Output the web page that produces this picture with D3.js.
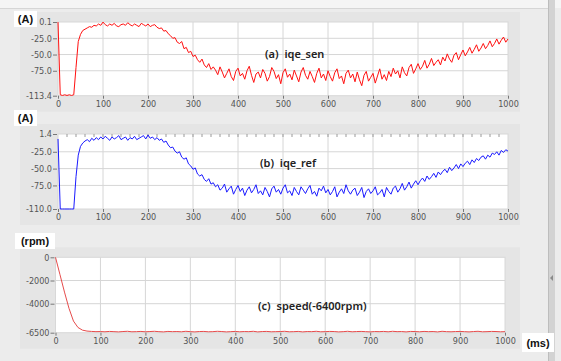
<!DOCTYPE html>
<html>
<head>
<meta charset="utf-8">
<script src="https://cdn.jsdelivr.net/npm/d3@7"></script>
<style>
body { margin: 0; background: #ececec; }
svg { display: block; }
.tick text { font-family: "Liberation Sans Narrow", "DejaVu Sans Condensed", sans-serif; font-size: 9px; fill: #555; }
.tick line { stroke: #777; }
.domain { display: none; }
.unit { font-family: "Liberation Sans", sans-serif; font-weight: bold; font-size: 11px; fill: #111; }
.note { font-family: "Noto Sans", sans-serif; font-weight: 600; font-size: 11px; fill: #222; }
</style>
</head>
<body>
<svg width="561" height="361"></svg>
<script>
// **** data (a, b: every 5 ms, c: every 10 ms) ****

var xTicks = [0, 100, 200, 300, 400, 500, 600, 700, 800, 900, 1000];
var senTicks = [0.1, -25, -50, -75, -113.4];
var refTicks = [1.4, -25, -50, -75, -110];
var speedTicks = [0, -2000, -4000, -6500];

var iqeSen = [
    0, -112, -113, -112, -113, -112, -113, -112, -70, -30,
    -19, -13, -11, -9, -7, -8, -5, -6, -3, -5,
    0, -4, -6, -3, -5, -2, -6, -7, -4, -3,
    -5, -1, -4, -6, -3, -5, -7, -2, -4, -6,
    -3, -7, -5, -4, -8, -10, -9, -14, -13, -18,
    -21, -25, -24, -31, -33, -30, -41, -39, -47, -45,
    -53, -51, -58, -62, -57, -66, -70, -64, -73, -69,
    -74, -81, -69, -77, -86, -79, -72, -84, -90, -76,
    -71, -83, -79, -88, -75, -68, -82, -93, -80, -77,
    -86, -73, -79, -91, -84, -70, -76, -87, -81, -95,
    -78, -72, -85, -80, -89, -74, -83, -92, -77, -70,
    -82, -88, -76, -84, -93, -79, -71, -86, -80, -90,
    -75, -84, -91, -78, -72, -87, -83, -95, -79, -74,
    -86, -80, -92, -77, -89, -98, -82, -76, -91, -85,
    -79, -94, -83, -72, -88, -81, -90, -76, -84, -71,
    -80, -75, -86, -69, -78, -83, -70, -65, -79, -72,
    -64, -73, -68, -59, -71, -65, -56, -67, -62, -58,
    -66, -54, -60, -49, -57, -62, -51, -47, -58, -50,
    -43, -52, -46, -39, -48, -42, -35, -45, -40, -33,
    -41, -36, -29, -38, -33, -26, -34, -28, -23, -31,
    -26
];

var iqeRef = [
    -6, -110, -110, -110, -110, -110, -110, -110, -62, -30,
    -17, -12, -9, -7, -10, -5, -8, -4, -7, -3,
    -6, -2, -5, -8, -3, -6, -4, -1, -7, -5,
    -3, -8, -4, -6, -2, -7, -5, -3, -1, -6,
    0, -5, -3, -7, -4, -8, -6, -11, -9, -15,
    -19, -18, -24, -27, -25, -33, -36, -34, -43, -46,
    -51, -49, -58, -61, -59, -66, -69, -65, -73, -71,
    -77, -74, -82, -79, -73, -85, -80, -76, -88, -81,
    -75, -84, -79, -90, -82, -77, -86, -81, -74, -87,
    -83, -89, -78, -84, -92, -80, -76, -85, -81, -88,
    -79, -74, -86, -83, -90, -78, -84, -89, -77, -82,
    -87, -80, -75, -88, -84, -91, -79, -83, -76, -86,
    -81, -89, -84, -77, -92, -85, -80, -87, -74, -83,
    -88, -82, -79, -90, -85, -78, -93, -84, -80, -87,
    -83, -77, -89, -86, -81, -92, -78, -84, -88, -79,
    -76, -85, -80, -72, -82, -77, -70, -79, -73, -68,
    -74, -68, -64, -69, -61, -66, -62, -57, -63, -55,
    -59, -54, -51, -56, -48, -53, -49, -44, -50, -43,
    -47, -42, -39, -44, -37, -41, -35, -38, -33, -31,
    -36, -30, -33, -27, -29, -25, -30, -23, -26, -22,
    -24
];

var speed = [
    0, -1500, -3000, -4400, -5500, -6050, -6280, -6360, -6390, -6410,
    -6400, -6420, -6390, -6410, -6430, -6400, -6380, -6420, -6410, -6390,
    -6420, -6400, -6380, -6410, -6430, -6390, -6410, -6400, -6420, -6380,
    -6410, -6430, -6400, -6390, -6420, -6410, -6380, -6400, -6430, -6410,
    -6390, -6420, -6400, -6410, -6380, -6430, -6400, -6390, -6420, -6410,
    -6400, -6380, -6420, -6410, -6390, -6430, -6400, -6410, -6380, -6420,
    -6410, -6390, -6400, -6430, -6410, -6380, -6420, -6400, -6390, -6410,
    -6430, -6400, -6410, -6390, -6420, -6380, -6410, -6400, -6430, -6390,
    -6400, -6420, -6390, -6410, -6400, -6430, -6380, -6410, -6420, -6400,
    -6390, -6410, -6430, -6400, -6380, -6420, -6410, -6390, -6400, -6420,
    -6410
];

var svg = d3.select('svg');

// **** window chrome ****

svg.append('rect').attr('x', 0).attr('y', 0).attr('width', 561).attr('height', 8).attr('fill', '#f5f5f5');
svg.append('line').attr('x1', 0).attr('x2', 548).attr('y1', 8.5).attr('y2', 8.5).attr('stroke', '#d6d6d6');
svg.append('rect').attr('x', 548).attr('y', 0).attr('width', 7).attr('height', 361).attr('fill', '#d3d3d3');
svg.append('line').attr('x1', 548.5).attr('x2', 548.5).attr('y1', 0).attr('y2', 361).attr('stroke', '#bdbdbd');
svg.append('path').attr('d', 'M550,278 L553,275 L553,281 Z').attr('fill', '#8a8a8a');

// **** one function per graph ****

function drawGraph(opt) {
    var x = d3.scaleLinear().domain([0, 1000]).range([opt.left, opt.right]);
    var y = d3.scaleLinear().domain([opt.ticks[opt.ticks.length - 1], opt.ticks[0]]).range([opt.bottom, opt.top]);

    // gray frame of the graph
    svg.append('rect')
        .attr('x', 20).attr('y', opt.top - 10)
        .attr('width', 500).attr('height', opt.bottom - opt.top + 26)
        .attr('fill', '#e5e5e5');

    svg.append('rect')
        .attr('x', opt.left).attr('y', opt.top)
        .attr('width', opt.right - opt.left).attr('height', opt.bottom - opt.top)
        .attr('fill', '#fff')
        .attr('stroke', '#d8d8d8');

    // grid
    svg.append('g').selectAll('line.v')
        .data(xTicks.slice(1, -1))
        .enter().append('line')
        .attr('x1', function(d) { return x(d); }).attr('x2', function(d) { return x(d); })
        .attr('y1', opt.top).attr('y2', opt.bottom)
        .attr('stroke', '#d6d6d6');

    svg.append('g').selectAll('line.h')
        .data(opt.ticks.slice(1, -1))
        .enter().append('line')
        .attr('x1', opt.left).attr('x2', opt.right)
        .attr('y1', function(d) { return y(d); }).attr('y2', function(d) { return y(d); })
        .attr('stroke', '#d6d6d6');

    if (opt.minor) {
        svg.append('g').selectAll('line')
            .data(d3.range(20, 1000, 20))
            .enter().append('line')
            .attr('x1', function(d) { return x(d); }).attr('x2', function(d) { return x(d); })
            .attr('y1', opt.top).attr('y2', opt.top + 3)
            .attr('stroke', '#999');
    }

    svg.append('g')
        .attr('transform', 'translate(' + (opt.left - 1) + ',0)')
        .call(d3.axisLeft(y).tickValues(opt.ticks).tickSize(4).tickPadding(1).tickFormat(opt.format));

    svg.append('g')
        .attr('transform', 'translate(0,' + opt.bottom + ')')
        .call(d3.axisBottom(x).tickValues(xTicks).tickSize(3).tickPadding(2).tickFormat(function(d) { return d; }));

    var line = d3.line()
        .x(function(d, i) { return x(i * opt.step); })
        .y(function(d) { return y(d); });

    svg.append('path')
        .datum(opt.values)
        .attr('d', line)
        .attr('fill', 'none')
        .attr('stroke', opt.color)
        .attr('stroke-width', 1);

    svg.append('text')
        .attr('class', 'note')
        .attr('x', opt.noteX).attr('y', opt.noteY)
        .attr('word-spacing', 3)
        .text(opt.note);
}

drawGraph({ values: iqeSen, step: 5, ticks: senTicks, color: '#ff1010',
    left: 58, right: 508, top: 22, bottom: 95.7,
    format: function(d) { return d.toFixed(1); },
    note: '(a) iqe_sen', noteX: 265, noteY: 58 });

drawGraph({ values: iqeRef, step: 5, ticks: refTicks, color: '#1a1aff', minor: true,
    left: 58, right: 508, top: 134, bottom: 209,
    format: function(d) { return d.toFixed(1); },
    note: '(b) iqe_ref', noteX: 260, noteY: 167 });

drawGraph({ values: speed, step: 10, ticks: speedTicks, color: '#e64c4c',
    left: 55.5, right: 505, top: 257.3, bottom: 332.7,
    format: function(d) { return d; },
    note: '(c) speed(-6400rpm)', noteX: 258, noteY: 310 });

// **** unit labels with white boxes ****

var units = [
    { text: '(A)', x: 14, y: 11, w: 23, h: 16 },
    { text: '(A)', x: 14, y: 110, w: 23, h: 16 },
    { text: '(rpm)', x: 15, y: 233, w: 40, h: 16 },
    { text: '(ms)', x: 522, y: 333, w: 32, h: 19 }
];

svg.selectAll('g.unit')
    .data(units)
    .enter()
    .append('g')
    .each(function(d) {
        d3.select(this).append('rect')
            .attr('x', d.x).attr('y', d.y).attr('width', d.w).attr('height', d.h)
            .attr('fill', '#fff');
        d3.select(this).append('text')
            .attr('class', 'unit')
            .attr('x', d.x + d.w / 2).attr('y', d.y + d.h / 2 + 4)
            .attr('text-anchor', 'middle')
            .text(d.text);
    });
</script>
</body>
</html>
